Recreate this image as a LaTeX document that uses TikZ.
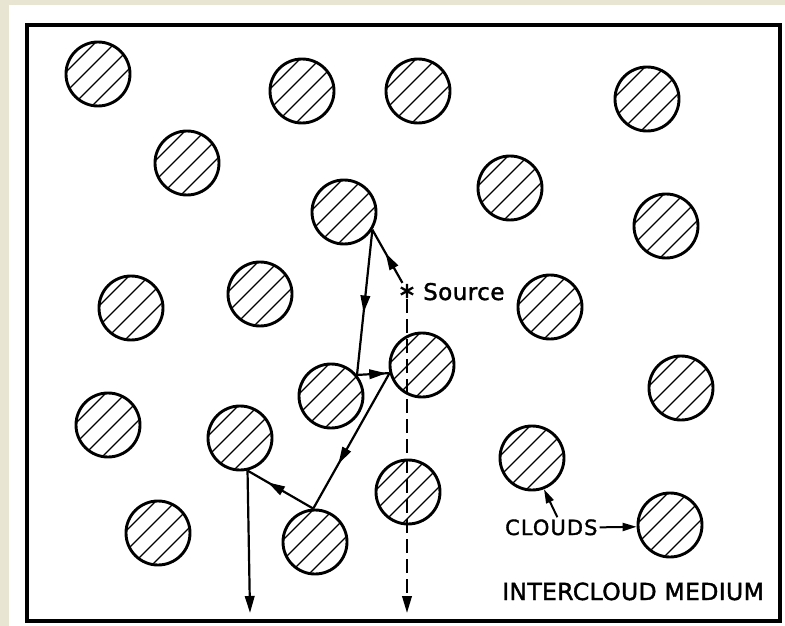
\documentclass[tikz,border=0pt]{standalone}
\usepackage{fontspec}
\newfontfamily\labelfont[FakeBold=1.6]{DejaVu Sans}
\usetikzlibrary{arrows.meta,decorations.markings}

\definecolor{paper}{HTML}{E8E5D2}

\tikzset{
  % hatched cloud: circle with 45-degree hatching clipped by path picture
  cloud/.style={circle, draw, line width=2.9pt, minimum size=64pt, inner sep=0pt,
    path picture={
      \foreach \k in {-3,...,3}{
        \draw[line width=1.3pt]
          ([shift={(\k*10+3-45,\k*10+3+45)}]path picture bounding box.center)
          -- ++(90,-90);
      }
    }},
  ray/.style={line width=2.2pt},
  head/.style={-{Triangle[length=17pt,width=9.5pt]}},
  midhead/.style={postaction={decorate},
    decoration={markings, mark=at position #1 with {\arrow{Triangle[length=17pt,width=9.5pt]}}}},
  escape/.style={line width=2.2pt, dash pattern=on 14pt off 6pt},
  pointer/.style={line width=2pt, -{Triangle[length=14pt,width=8pt]}},
  lbl/.style={inner sep=2pt, font=\labelfont},
}

\begin{document}
\begin{tikzpicture}[x=1pt,y=-1pt]
  \useasboundingbox (0,0) rectangle (785,626);
  \fill[paper] (0,0) rectangle (785,626);
  \fill[white] (9,5) rectangle (785,626);

  % frame of the intercloud medium
  \draw[line width=3.8pt] (27,25) rectangle (780,621);

  % clouds
  \node[cloud] (c1)  at (98,74)   {};
  \node[cloud] (c2)  at (302,91)  {};
  \node[cloud] (c3)  at (418,91)  {};
  \node[cloud] (c4)  at (647,99)  {};
  \node[cloud] (c5)  at (187,163) {};
  \node[cloud] (c6)  at (510,188) {};
  \node[cloud] (c7)  at (344,212) {};
  \node[cloud] (c8)  at (666,226) {};
  \node[cloud] (c9)  at (131,308) {};
  \node[cloud] (c10) at (260,294) {};
  \node[cloud] (c11) at (550,307) {};
  \node[cloud] (c12) at (331,396) {};
  \node[cloud] (c13) at (422,365) {};
  \node[cloud] (c14) at (681,388) {};
  \node[cloud] (c15) at (108,425) {};
  \node[cloud] (c16) at (240,438) {};
  \node[cloud] (c17) at (532,458) {};
  \node[cloud] (c18) at (158,533) {};
  \node[cloud] (c19) at (315,542) {};
  \node[cloud] (c20) at (408,492) {};
  \node[cloud] (c21) at (670,525) {};

  % source and labels
  \node[inner sep=1pt, font=\labelfont\fontsize{22}{22}\selectfont] (src) at (407,291) {∗};
  \node[lbl, anchor=base west, font=\labelfont\fontsize{23}{23}\selectfont\addfontfeature{LetterSpace=2}] (srclabel) at (421,300) {Source};
  \node[lbl, anchor=base west, font=\labelfont\fontsize{21}{21}\selectfont\addfontfeature{LetterSpace=5}] (cl) at (503,535) {CLOUDS};
  \node[lbl, anchor=base west, font=\labelfont\fontsize{23.5}{23.5}\selectfont\addfontfeature{LetterSpace=1.5}] (icm) at (500,600) {INTERCLOUD MEDIUM};

  \coordinate (exit1) at (250,613);
  \coordinate (exit2) at (407,613);

  % photon path scattered by the clouds
  \draw[ray, midhead=0.56] (src) -- (c7.-32);
  \draw[ray, midhead=0.57] (c7.-32) -- (c12.39);
  \draw[ray, midhead=0.9]  (c12.39) -- (c13.194);
  \draw[ray, midhead=0.67] (c13.194) -- (c19.93);
  \draw[ray, midhead=0.69] (c19.93) -- (c16.-77);
  \draw[ray, head] (c16.-77) -- (exit1);

  % unscattered path
  \draw[escape, head] (src) -- (exit2);

  % label pointers
  \draw[pointer] ([xshift=6pt]cl.north) -- (c17.-69);
  \draw[pointer] (cl.east) -- (c21.183);
\end{tikzpicture}
\end{document}
